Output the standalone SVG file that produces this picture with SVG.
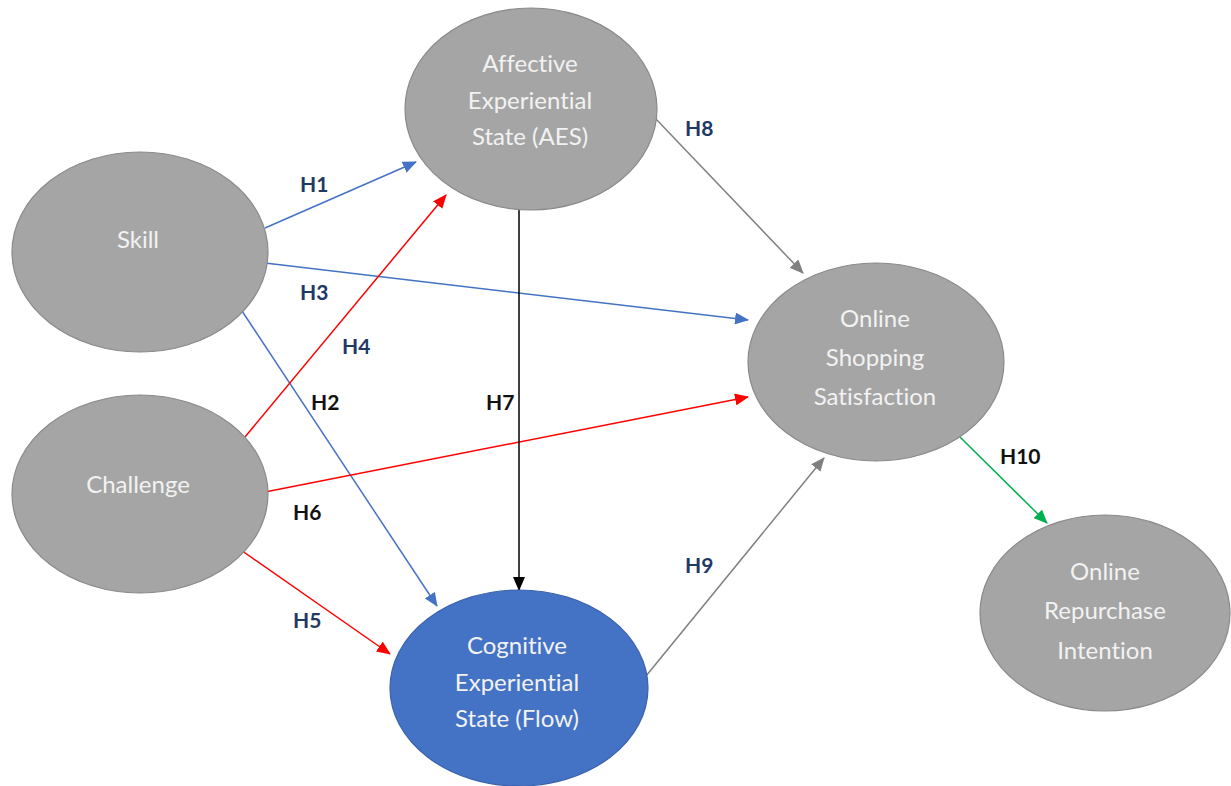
<svg xmlns="http://www.w3.org/2000/svg" width="1231" height="786" viewBox="0 0 1231 786">
<style>
.node{fill:#a5a5a5;stroke:#8a8a8a;stroke-width:1.2}
.flow{fill:#4472c4;stroke:#3a63ad;stroke-width:1.2}
.nt{font-family:Lato,"Open Sans",sans-serif;font-size:24px;fill:#f2f2f2;text-anchor:middle;font-variant-ligatures:none;font-feature-settings:"liga" 0}
.lb{font-family:Lato,"Liberation Sans",sans-serif;font-size:21px;font-weight:bold}
.bl{fill:#1f3864}
.bk{fill:#111111}
.c{fill:none;stroke-width:1.5}
</style>
<defs>
<marker id="ab" markerUnits="userSpaceOnUse" markerWidth="14" markerHeight="12" refX="13" refY="6" orient="auto"><path d="M0,0 L14,6 L0,12 Z" fill="#4472c4"/></marker>
<marker id="ar" markerUnits="userSpaceOnUse" markerWidth="14" markerHeight="12" refX="13" refY="6" orient="auto"><path d="M0,0 L14,6 L0,12 Z" fill="#ff0000"/></marker>
<marker id="ak" markerUnits="userSpaceOnUse" markerWidth="14" markerHeight="12" refX="13" refY="6" orient="auto"><path d="M0,0 L14,6 L0,12 Z" fill="#000000"/></marker>
<marker id="ag" markerUnits="userSpaceOnUse" markerWidth="14" markerHeight="12" refX="13" refY="6" orient="auto"><path d="M0,0 L14,6 L0,12 Z" fill="#808080"/></marker>
<marker id="agr" markerUnits="userSpaceOnUse" markerWidth="14" markerHeight="12" refX="13" refY="6" orient="auto"><path d="M0,0 L14,6 L0,12 Z" fill="#00b050"/></marker>
</defs>
<rect width="1231" height="786" fill="#ffffff"/>
<g id="connectors">
<line class="c" x1="265" y1="228" x2="416" y2="162" stroke="#4472c4" marker-end="url(#ab)"/>
<line class="c" x1="265" y1="263" x2="748" y2="320" stroke="#4472c4" marker-end="url(#ab)"/>
<line class="c" x1="238" y1="305" x2="437" y2="606" stroke="#4472c4" marker-end="url(#ab)"/>
<line class="c" x1="245" y1="437" x2="446" y2="195" stroke="#ff0000" marker-end="url(#ar)"/>
<line class="c" x1="265" y1="492" x2="748" y2="397" stroke="#ff0000" marker-end="url(#ar)"/>
<line class="c" x1="238" y1="548" x2="390" y2="654" stroke="#ff0000" marker-end="url(#ar)"/>
<line class="c" x1="519" y1="210" x2="519" y2="590" stroke="#000000" marker-end="url(#ak)"/>
<line class="c" x1="655" y1="118" x2="803" y2="273" stroke="#808080" marker-end="url(#ag)"/>
<line class="c" x1="646" y1="676" x2="824" y2="458" stroke="#808080" marker-end="url(#ag)"/>
<line class="c" x1="960" y1="437" x2="1047" y2="523" stroke="#00b050" marker-end="url(#agr)"/>
<text class="lb bl" x="300" y="192">H1</text>
<text class="lb bl" x="300" y="300">H3</text>
<text class="lb bl" x="342" y="354">H4</text>
<text class="lb bk" x="311" y="410">H2</text>
<text class="lb bk" x="486" y="410">H7</text>
<text class="lb bl" x="685" y="136">H8</text>
<text class="lb bk" x="293" y="520">H6</text>
<text class="lb bl" x="293" y="628">H5</text>
<text class="lb bl" x="685" y="573">H9</text>
<text class="lb bk" x="1000" y="464">H10</text>
</g>
<g id="aes">
<ellipse class="node" cx="531" cy="109" rx="126" ry="101"/>
<text class="nt" x="530" y="72">Affective</text>
<text class="nt" x="530" y="109">Experiential</text>
<text class="nt" x="530" y="145">State (AES)</text>
</g>
<g id="skill">
<ellipse class="node" cx="140" cy="252" rx="128" ry="100"/>
<text class="nt" x="138" y="248">Skill</text>
</g>
<g id="challenge">
<ellipse class="node" cx="140" cy="494" rx="128" ry="99"/>
<text class="nt" x="138" y="493">Challenge</text>
</g>
<g id="flow">
<ellipse class="flow" cx="519" cy="688" rx="129" ry="98"/>
<text class="nt" x="517" y="654">Cognitive</text>
<text class="nt" x="517" y="691">Experiential</text>
<text class="nt" x="517" y="727">State (Flow)</text>
</g>
<g id="oss">
<ellipse class="node" cx="876" cy="362" rx="128" ry="99"/>
<text class="nt" x="875" y="327">Online</text>
<text class="nt" x="875" y="366">Shopping</text>
<text class="nt" x="875" y="405">Satisfaction</text>
</g>
<g id="ori">
<ellipse class="node" cx="1105" cy="613" rx="125" ry="98"/>
<text class="nt" x="1105" y="580">Online</text>
<text class="nt" x="1105" y="619">Repurchase</text>
<text class="nt" x="1105" y="659">Intention</text>
</g>
</svg>
